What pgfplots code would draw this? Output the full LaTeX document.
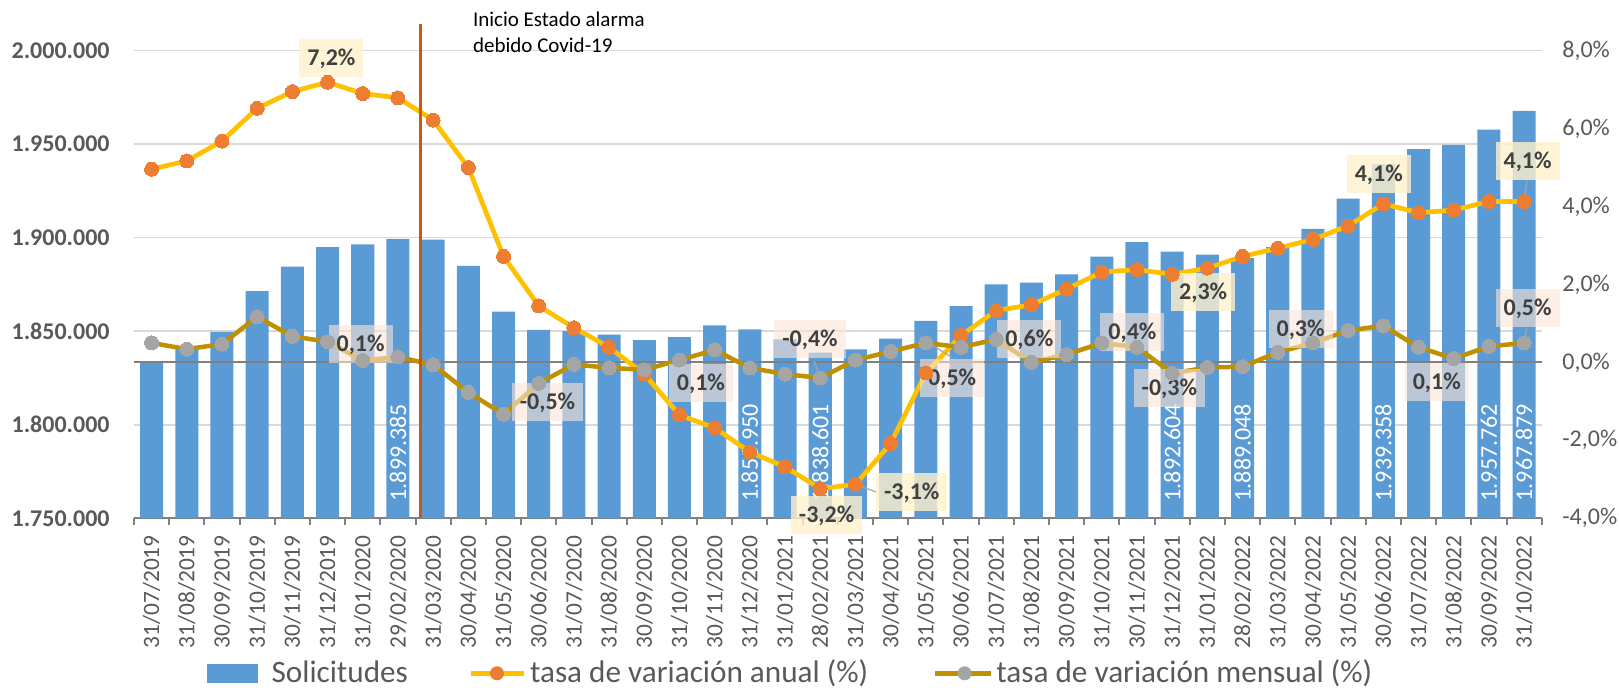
\documentclass[border=0pt]{standalone}
\usepackage{fontspec}
\setmainfont{Carlito}
\usepackage{pgfplots}
\usepackage{pgfplotstable}
\pgfplotsset{compat=1.18}
\definecolor{barblue}{HTML}{5B9BD5}
\definecolor{annline}{HTML}{FFC000}
\definecolor{annmark}{HTML}{ED7D31}
\definecolor{monline}{HTML}{BF9000}
\definecolor{monmark}{HTML}{A5A5A5}
\definecolor{axisgray}{HTML}{808080}
\definecolor{gridgray}{HTML}{D9D9D9}
\definecolor{labtext}{HTML}{404040}
\definecolor{ticktext}{HTML}{595959}
\definecolor{vline}{HTML}{C55A11}
\definecolor{labyellow}{HTML}{FFF2CC}
\definecolor{labpeach}{HTML}{FBE5D6}
\definecolor{leader}{HTML}{A6A6A6}

\pgfplotstableread{
x sol
0 1834000
1 1841800
2 1849600
3 1871500
4 1884500
5 1895000
6 1896500
7 1899385
8 1899000
9 1884900
10 1860450
11 1850700
12 1850100
13 1848150
14 1845200
15 1846900
16 1853200
17 1850950
18 1845700
19 1838601
20 1840350
21 1846000
22 1855500
23 1863400
24 1875100
25 1876000
26 1880400
27 1889900
28 1897700
29 1892604
30 1890900
31 1889048
32 1895000
33 1904700
34 1920900
35 1939358
36 1947400
37 1949700
38 1957762
39 1967879
}\soltable

\pgfplotstableread{
x anual mensual
0 4.96 0.50
1 5.17 0.34
2 5.68 0.47
3 6.52 1.17
4 6.95 0.67
5 7.19 0.53
6 6.90 0.05
7 6.79 0.14
8 6.22 -0.06
9 5.00 -0.77
10 2.72 -1.33
11 1.45 -0.54
12 0.89 -0.05
13 0.39 -0.14
14 -0.30 -0.19
15 -1.35 0.06
16 -1.68 0.32
17 -2.30 -0.14
18 -2.68 -0.30
19 -3.24 -0.40
20 -3.13 0.06
21 -2.08 0.28
22 -0.27 0.50
23 0.69 0.39
24 1.33 0.59
25 1.48 0.00
26 1.88 0.20
27 2.32 0.50
28 2.38 0.39
29 2.26 -0.28
30 2.42 -0.13
31 2.72 -0.11
32 2.93 0.26
33 3.16 0.50
34 3.50 0.82
35 4.07 0.94
36 3.84 0.39
37 3.91 0.10
38 4.13 0.41
39 4.13 0.50
}\ratetable

\tikzset{
  annlab/.style={fill=labyellow, fill opacity=0.8, text opacity=1, text=labtext,
    font=\fontsize{12}{14}\selectfont\bfseries, inner xsep=4pt, inner ysep=5.7pt,
    text height=7.6pt, text depth=0pt},
  monlab/.style={fill=labpeach, fill opacity=0.6, text opacity=1, text=labtext,
    font=\fontsize{12}{14}\selectfont\bfseries, inner xsep=4pt, inner ysep=5.7pt,
    text height=7.6pt, text depth=0pt},
  barlab/.style={rotate=90, anchor=west, inner sep=0pt, text=white,
    font=\fontsize{12}{14}\selectfont},
}

\begin{document}
\begin{tikzpicture}
\path[use as bounding box] (0,0) rectangle (809.5pt,344pt);
\begin{axis}[
  at={(67pt,84.85pt)}, anchor=south west,
  scale only axis, width=703.85pt, height=233.8pt,
  xmin=-0.5, xmax=39.5, ymin=1750000, ymax=2000000,
  scaled y ticks=false,
  axis x line*=bottom, axis y line*=left,
  y axis line style={draw=none},
  x axis line style={draw=axisgray, line width=1pt},
  ytick={1750000,1800000,1850000,1900000,1950000,2000000},
  yticklabels={1.750.000,1.800.000,1.850.000,1.900.000,1.950.000,2.000.000},
  yticklabel style={font=\fontsize{12}{14}\selectfont\bfseries, text=ticktext, anchor=east, inner sep=0pt, xshift=-12pt},
  ytick style={draw=none},
  ymajorgrids, major grid style={draw=gridgray, line width=0.75pt},
  xtick={0,...,39},
  xticklabels={31/07/2019,31/08/2019,30/09/2019,31/10/2019,30/11/2019,31/12/2019,31/01/2020,29/02/2020,31/03/2020,30/04/2020,31/05/2020,30/06/2020,31/07/2020,31/08/2020,30/09/2020,31/10/2020,30/11/2020,31/12/2020,31/01/2021,28/02/2021,31/03/2021,30/04/2021,31/05/2021,30/06/2021,31/07/2021,31/08/2021,30/09/2021,31/10/2021,30/11/2021,31/12/2021,31/01/2022,28/02/2022,31/03/2022,30/04/2022,31/05/2022,30/06/2022,31/07/2022,31/08/2022,30/09/2022,31/10/2022},
  xticklabel style={rotate=90, anchor=east, inner sep=0pt, font=\fontsize{11.7}{14}\selectfont, text=ticktext},
  xticklabel shift=8.35pt,
  xtick style={draw=none},
  extra x ticks={-0.5,0.5,...,39.5},
  extra x tick labels={},
  extra x tick style={grid=none, tick align=outside, major tick length=3.4pt, xtick style={draw=axisgray, line width=1pt}},
]
\addplot[ybar, bar width=0.654, fill=barblue, draw=none] table[x=x,y=sol]{\soltable};
\node[barlab] at (axis cs:7,1758874) {1.899.385};
\node[barlab] at (axis cs:17,1758874) {1.850.950};
\node[barlab] at (axis cs:19,1758874) {1.838.601};
\node[barlab] at (axis cs:29,1758874) {1.892.604};
\node[barlab] at (axis cs:31,1758874) {1.889.048};
\node[barlab] at (axis cs:35,1758874) {1.939.358};
\node[barlab] at (axis cs:38,1758874) {1.957.762};
\node[barlab] at (axis cs:39,1758874) {1.967.879};
\end{axis}

\begin{axis}[
  at={(67pt,84.85pt)}, anchor=south west,
  scale only axis, width=703.85pt, height=233.8pt,
  xmin=-0.5, xmax=39.5, ymin=-4, ymax=8,
  axis x line=none, axis y line*=right,
  y axis line style={draw=none},
  ytick={-4,-2,0,2,4,6,8},
  yticklabels={{-4,0\%},{-2,0\%},{0,0\%},{2,0\%},{4,0\%},{6,0\%},{8,0\%}},
  yticklabel style={font=\fontsize{12}{14}\selectfont, text=ticktext, anchor=west, inner sep=0pt, xshift=10.15pt},
  ytick style={draw=none},
  extra y ticks={0}, extra y tick labels={},
  extra y tick style={grid=major, major grid style={draw=axisgray, line width=1pt}},
  clip=false,
]
\addplot[annline, line width=2.35pt, mark=*, mark size=3.5pt, mark options={fill=annmark, draw=annmark, line width=0pt}] table[x=x,y=anual]{\ratetable};
\addplot[monline, line width=2.25pt, mark=*, mark size=3.5pt, mark options={fill=monmark, draw=monmark, line width=0pt}] table[x=x,y=mensual]{\ratetable};
% leader lines
\draw[leader, line width=0.6pt] (axis cs:20,-3.13) -- (axis cs:20.6,-3.33);
\draw[leader, line width=0.6pt] (axis cs:39,4.13) -- (axis cs:39.08,4.67);
\draw[leader, line width=0.6pt] (axis cs:19,-0.40) -- (axis cs:18.83,0.04);
\draw[leader, line width=0.6pt] (axis cs:22.2,0.43) -- (axis cs:22.74,0.13);
\draw[leader, line width=0.6pt] (axis cs:39,0.5) -- (axis cs:39.08,0.90);
% annual labels
\node[annlab] at (axis cs:5.11,7.82) {7,2\%};
\node[annlab] at (axis cs:19.18,-3.92) {-3,2\%};
\node[annlab] at (axis cs:21.6,-3.33) {-3,1\%};
\node[annlab] at (axis cs:29.88,1.81) {2,3\%};
\node[annlab] at (axis cs:34.87,4.83) {4,1\%};
\node[annlab] at (axis cs:39.1,5.16) {4,1\%};
% monthly labels
\node[monlab] at (axis cs:5.94,0.47) {0,1\%};
\node[monlab] at (axis cs:11.25,-1.02) {-0,5\%};
\node[monlab] at (axis cs:15.61,-0.52) {0,1\%};
\node[monlab] at (axis cs:18.71,0.60) {-0,4\%};
\node[monlab] at (axis cs:22.75,-0.40) {0,5\%};
\node[monlab] at (axis cs:24.94,0.60) {0,6\%};
\node[monlab] at (axis cs:27.87,0.79) {0,4\%};
\node[monlab] at (axis cs:28.92,-0.66) {-0,3\%};
\node[monlab] at (axis cs:32.65,0.87) {0,3\%};
\node[monlab] at (axis cs:36.52,-0.51) {0,1\%};
\node[monlab] at (axis cs:39.1,1.39) {0,5\%};
% Covid line
\draw[vline, line width=1.35pt] (axis cs:7.647,-4) -- (axis cs:7.647,8.687);
\end{axis}

% annotation
\node[anchor=base west, inner sep=0pt, font=\fontsize{10.5}{12}\selectfont] at (236.35pt,330.65pt) {Inicio Estado alarma};
\node[anchor=base west, inner sep=0pt, font=\fontsize{10.5}{12}\selectfont] at (236.35pt,317.65pt) {debido Covid-19};

% legend
\fill[barblue] (103.3pt,2.4pt) rectangle (129.2pt,12pt);
\node[anchor=base west, inner sep=0pt, text=ticktext, font=\fontsize{15.6}{18}\selectfont] at (135.6pt,2.65pt) {Solicitudes};
\draw[annline, line width=2.35pt] (235.5pt,7.35pt) -- (262pt,7.35pt);
\fill[annmark] (248.5pt,7.35pt) circle (3.5pt);
\node[anchor=base west, inner sep=0pt, text=ticktext, font=\fontsize{15.6}{18}\selectfont] at (264.8pt,2.65pt) {tasa de variación anual (\%)};
\draw[monline, line width=2.25pt] (467.5pt,7.35pt) -- (495.5pt,7.35pt);
\fill[monmark] (482.3pt,7.35pt) circle (3.5pt);
\node[anchor=base west, inner sep=0pt, text=ticktext, font=\fontsize{15.6}{18}\selectfont] at (498pt,2.65pt) {tasa de variación mensual (\%)};
\end{tikzpicture}
\end{document}
